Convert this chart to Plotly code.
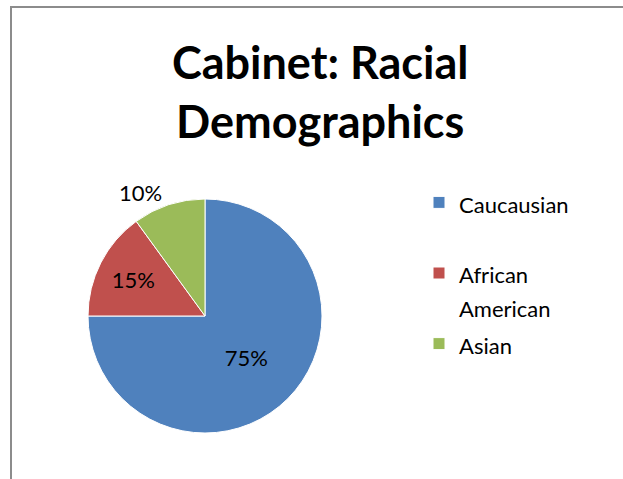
import plotly.graph_objects as go

labels = ["Caucausian", "African American", "Asian"]
legend_names = ["Caucausian<br> ", "African<br>American", "Asian"]
values = [75, 15, 10]
colors = ["#4F81BD", "#C0504D", "#9BBB59"]
text_positions = ["inside", "inside", "outside"]

W, H = 623, 479
FONT = "Lato, Liberation Sans, Arial, sans-serif"
fig = go.Figure(go.Pie(
    labels=[f'<span style="font-size:22px">{n}</span>' for n in legend_names],
    values=values,
    sort=False,
    direction="clockwise",
    rotation=0,
    marker=dict(colors=colors, line=dict(color="white", width=1)),
    textinfo="percent",
    texttemplate="%{percent:.0%}",
    textposition=text_positions,
    insidetextorientation="horizontal",
    textfont=dict(family=FONT, size=22, color="black"),
    domain=dict(x=[88 / W, 322 / W], y=[1 - 433 / H, 1 - 199 / H]),
    hoverinfo="label+percent",
))

fig.add_shape(type="rect", xref="paper", yref="paper",
              x0=11 / W, x1=1.05, y0=-0.05, y1=1 - 7 / H,
              line=dict(color="#8c8c8c", width=2), fillcolor="rgba(0,0,0,0)", layer="above")

fig.update_layout(
    width=W, height=H,
    margin=dict(l=0, r=0, t=0, b=0),
    paper_bgcolor="white", plot_bgcolor="white",
    title=dict(text="Cabinet: Racial<br>Demographics",
               font=dict(family=FONT, size=45, color="black", weight="bold"),
               x=0.514, xanchor="center", y=1 - 79 / H, yanchor="top", yref="container"),
    legend=dict(x=419 / W, xanchor="left", y=1 - 179 / H, yanchor="top",
                font=dict(family=FONT, size=26, color="black"),
                valign="top", bgcolor="rgba(0,0,0,0)", traceorder="normal"),
    showlegend=True,
)

fig.write_html("out.html")
